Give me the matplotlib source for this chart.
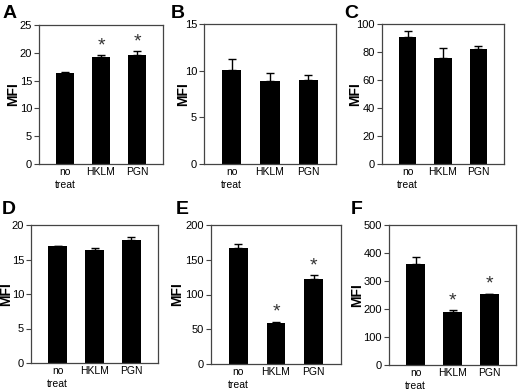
import numpy as np
import matplotlib.pyplot as plt

plt.rcParams['font.family'] = ['Liberation Sans', 'DejaVu Sans']

groups = ['no\ntreat', 'HKLM', 'PGN']

panel_names = ['A', 'B', 'C', 'D', 'E', 'F']
means_a = [16.3, 19.2, 19.6]
err_a = [0.3, 0.4, 0.7]
means_b = [10.1, 8.9, 9.0]
err_b = [1.1, 0.8, 0.5]
means_c = [91, 75.5, 82]
err_c = [4, 7, 2]
means_d = [17.0, 16.4, 17.8]
err_d = [0.0, 0.3, 0.5]
means_e = [167, 59, 123]
err_e = [5, 2, 5]
means_f = [362, 191, 252]
err_f = [25, 5, 3]

ymax = [25, 15, 100, 20, 200, 500]
ystep = [5, 5, 20, 5, 50, 100]
stars = [[1, 2], [], [], [], [1, 2], [1, 2]]

W, H = 520, 391
# axes boxes in pixels: left, top, right, bottom
boxes = [(39, 25, 163, 164), (204, 24, 336, 164), (382, 24, 504, 164),
         (31, 225, 158, 363), (211, 225, 341, 364), (389, 225, 516, 365)]
label_pos = [(3, 14), (171, 14), (344, 14), (2, 209), (176, 209), (351, 209)]
mfi_x = [13, 183, 355, 6, 177, 357]

fig = plt.figure(figsize=(W / 100, H / 100), dpi=100)

all_means = [means_a, means_b, means_c, means_d, means_e, means_f]
all_err = [err_a, err_b, err_c, err_d, err_e, err_f]

for i in range(6):
    l, t, r, b = boxes[i]
    ax = fig.add_axes([l / W, 1 - b / H, (r - l) / W, (b - t) / H])
    x = np.arange(3)
    m = all_means[i]
    e = all_err[i]
    ax.bar(x, m, width=0.5, color='black', zorder=2)
    ax.errorbar(x, m, yerr=[np.zeros(3), e], fmt='none', ecolor='black',
                elinewidth=1, capsize=3, capthick=1, zorder=1)
    for k in stars[i]:
        ax.text(k, m[k] + e[k] + ymax[i] * 0.005, '*', ha='center', va='bottom',
                fontsize=14, color='#333333')
    ax.set_xlim(-0.72, 2.72)
    ax.set_ylim(0, ymax[i])
    ax.set_yticks(np.arange(0, ymax[i] + 1, ystep[i]))
    ax.set_xticks(x)
    ax.set_xticklabels(groups, fontsize=7.5, linespacing=1.3)
    ax.tick_params(axis='x', length=0, pad=2.5)
    ax.tick_params(axis='y', length=3.5, width=0.8, labelsize=8, pad=1.5,
                   color='#444444')
    for s in ax.spines.values():
        s.set_color('#444444')
        s.set_linewidth(0.9)
    ax.set_ylabel('MFI', fontsize=10, fontweight='bold', va='center')
    ax.yaxis.set_label_coords((mfi_x[i] - l) / (r - l), 0.5)
    fig.text(label_pos[i][0] / W, 1 - label_pos[i][1] / H, panel_names[i],
             fontsize=14, fontweight='bold', va='center', ha='left')

fig.savefig('out.png', dpi=100)
